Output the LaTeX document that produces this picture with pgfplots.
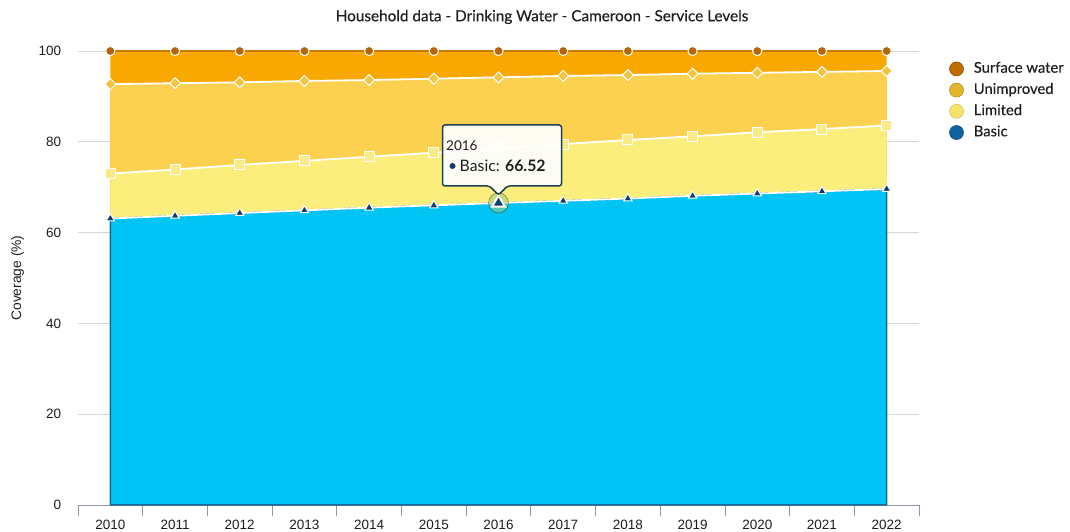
\documentclass[border=0pt]{standalone}
\usepackage{fontspec}
\setmainfont{Lato}
\newfontfamily\arialfont{Liberation Sans}
\newfontfamily\medfont[FakeBold=0.35]{Lato}
\usepackage{pgfplots}
\pgfplotsset{compat=1.18}
\usepackage{pgfplotstable}

\definecolor{basicfill}{HTML}{00C4F4}
\definecolor{basicedge}{HTML}{16679A}
\definecolor{basicmark}{HTML}{0B3F6E}
\definecolor{limfill}{HTML}{FCEE7C}
\definecolor{limmark}{HTML}{FBEB88}
\definecolor{unfill}{HTML}{FCD14F}
\definecolor{unmark}{HTML}{F2C440}
\definecolor{surffill}{HTML}{F8A800}
\definecolor{surfedge}{HTML}{C97A00}
\definecolor{surfmark}{HTML}{B5660A}
\definecolor{leg1}{HTML}{C06A00}
\definecolor{leg2}{HTML}{E4B42C}
\definecolor{leg3}{HTML}{F6E46A}
\definecolor{leg4}{HTML}{0E64A0}
\definecolor{gridgray}{HTML}{D6D6D6}
\definecolor{axisgray}{HTML}{8A96A3}
\definecolor{textgray}{HTML}{1E1E1E}
\definecolor{tipborder}{HTML}{1E3E52}
\definecolor{halo}{HTML}{9CCB7A}

\pgfplotstableread{
year basic limited unimproved surface
2010 63.1 9.9 19.7 7.3
2011 63.7 10.2 19.0 7.1
2012 64.3 10.6 18.2 6.9
2013 64.9 10.9 17.6 6.6
2014 65.5 11.2 16.9 6.4
2015 66.0 11.6 16.3 6.1
2016 66.52 11.98 15.7 5.8
2017 67.0 12.5 15.0 5.5
2018 67.5 12.9 14.3 5.3
2019 68.1 13.1 13.8 5.0
2020 68.6 13.5 13.1 4.8
2021 69.1 13.7 12.6 4.6
2022 69.6 14.0 12.0 4.4
}\datatable

\begin{document}
\begin{tikzpicture}
\useasboundingbox (0pt,0pt) rectangle (1070pt,532pt);
\node[font=\medfont\fontsize{15.3}{16}\selectfont, text=textgray] at (542pt,515pt) {Household data - Drinking Water - Cameroon - Service Levels};
\begin{axis}[
  at={(78pt,27pt)}, anchor=south west,
  scale only axis, width=841pt, height=454pt,
  clip=false,
  xmin=2009.5, xmax=2022.5, ymin=0, ymax=100,
  axis x line*=bottom, axis y line*=left,
  x axis line style={draw=axisgray, line width=0.8pt, -},
  y axis line style={draw=none},
  ytick={0,20,...,100},
  ymajorgrids, grid style={draw=gridgray, line width=0.8pt},
  ytick style={draw=none},
  yticklabel style={font=\arialfont\fontsize{13.5}{13.5}\selectfont, text=textgray, xshift=-9pt},
  xtick={2010,2011,...,2022},
  major x tick style={draw=none},
  minor xtick={2009.5,2010.5,...,2022.5},
  minor x tick style={draw=axisgray, line width=0.8pt},
  minor tick length=11pt,
  tick align=outside,
  xticklabel style={font=\arialfont\fontsize{13.5}{13.5}\selectfont, text=textgray, yshift=-7pt},
  /pgf/number format/1000 sep={},
  /pgf/number format/assume math mode=true,
  ylabel={Coverage (\%)},
  ylabel style={font=\arialfont\fontsize{13.8}{14}\selectfont, text=textgray, at={(axis description cs:-0.072,0.5)}, anchor=center},
  legend style={at={(axis description cs:1,1)}, anchor=north west, xshift=30pt, yshift=-10pt, draw=none, fill=none,
    font=\medfont\fontsize{14.8}{15}\selectfont, text=textgray, row sep=5.7pt, inner sep=0pt,
    nodes={inner sep=1pt, text height=10.5pt, text depth=3pt},
    /tikz/every odd column/.append style={column sep=9pt}},
  legend cell align=left,
  legend image code/.code={\path[#1] (0pt,0pt) circle (7pt);},
]
\addlegendimage{fill=leg1, draw=leg1!75!black, line width=0.6pt}
\addlegendentry{Surface water}
\addlegendimage{fill=leg2, draw=leg2!80!black, line width=0.6pt}
\addlegendentry{Unimproved}
\addlegendimage{fill=leg3, draw=leg3!85!black, line width=0.6pt}
\addlegendentry{Limited}
\addlegendimage{fill=leg4, draw=leg4!75!black, line width=0.6pt}
\addlegendentry{Basic}

% fills (cumulative tops)
\addplot[forget plot, fill=surffill, draw=none, mark=none] table[x=year, y expr=\thisrow{basic}+\thisrow{limited}+\thisrow{unimproved}+\thisrow{surface}] \datatable \closedcycle;
\addplot[forget plot, fill=unfill, draw=none, mark=none] table[x=year, y expr=\thisrow{basic}+\thisrow{limited}+\thisrow{unimproved}] \datatable \closedcycle;
\addplot[forget plot, fill=limfill, draw=none, mark=none] table[x=year, y expr=\thisrow{basic}+\thisrow{limited}] \datatable \closedcycle;
\addplot[forget plot, fill=basicfill, draw=basicedge, line width=1.5pt, mark=none] table[x=year, y=basic] \datatable \closedcycle;

% lines and markers
\addplot[forget plot, draw=surfedge, line width=2pt, mark=none] table[x=year, y expr=\thisrow{basic}+\thisrow{limited}+\thisrow{unimproved}+\thisrow{surface}] \datatable;
\addplot[forget plot, draw=white, line width=1.8pt, mark=square*, mark size=3.9pt, mark options={rotate=45, fill=unmark, draw=white, line width=1pt}] table[x=year, y expr=\thisrow{basic}+\thisrow{limited}+\thisrow{unimproved}] \datatable;
\addplot[forget plot, draw=white, line width=1.8pt, mark=square*, mark size=5pt, mark options={fill=limmark, draw=white, line width=1pt}] table[x=year, y expr=\thisrow{basic}+\thisrow{limited}] \datatable;
\addplot[forget plot, draw=white, line width=1.8pt, mark=triangle*, mark size=4.8pt, mark options={fill=basicmark, draw=white, line width=1pt}] table[x=year, y=basic] \datatable;
\addplot[forget plot, draw=none, mark=*, mark size=4.6pt, mark options={fill=surfmark, draw=white, line width=1pt}] table[x=year, y expr=\thisrow{basic}+\thisrow{limited}+\thisrow{unimproved}+\thisrow{surface}] \datatable;

% hover highlight
\addplot[forget plot, only marks, mark=*, mark size=10pt, mark options={fill=halo, draw=none, opacity=0.55}] coordinates {(2016,66.52)};
\addplot[forget plot, only marks, mark=triangle*, mark size=7.5pt, mark options={fill=basicmark, draw=white, line width=2pt}] coordinates {(2016,66.52)};

\coordinate (tip) at (axis cs:2016,66.52);
\end{axis}
\draw[tipborder, line width=1.5pt, fill=white, fill opacity=0.93, rounded corners=2.5pt]
  ([shift={(-56pt,17pt)}]tip) -- ([shift={(-9pt,17pt)}]tip) -- ([shift={(0pt,8pt)}]tip) -- ([shift={(9pt,17pt)}]tip)
  -- ([shift={(63pt,17pt)}]tip) -- ([shift={(63pt,78pt)}]tip) -- ([shift={(-56pt,78pt)}]tip) -- cycle;
\node[anchor=west, font=\fontsize{13.5}{13.5}\selectfont, text=textgray, inner sep=0pt] at ([shift={(-52.5pt,57pt)}]tip) {2016};
\fill[basicmark] ([shift={(-46pt,37pt)}]tip) circle (3pt);
\node[anchor=west, font=\fontsize{15.8}{16}\selectfont, text=textgray, inner sep=0pt] at ([shift={(-39pt,37pt)}]tip) {Basic: \textbf{66.52}};
\end{tikzpicture}
\end{document}
